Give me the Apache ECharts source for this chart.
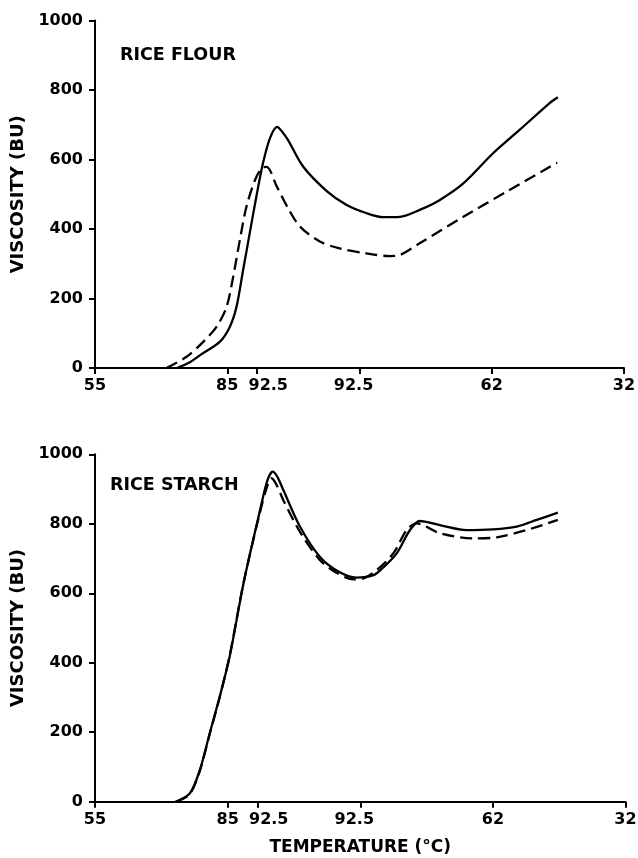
<!DOCTYPE html>
<html>
<head>
<meta charset="utf-8">
<script src="https://cdn.jsdelivr.net/npm/echarts@6/dist/echarts.min.js"></script>
<style>
html,body{margin:0;padding:0;background:#fff;}
#c{width:638px;height:858px;}
</style>
</head>
<body>
<div id="c"></div>
<script>
// Time axis (minutes) with temperature labels
const tickTimes = [0, 20, 24.5, 40, 60, 80];
const labelTimes = [0, 20, 26.2, 39.1, 60, 80];
const tempLabels = ['55', '85', '92.5', '92.5', '62', '32'];

// RICE FLOUR
const flourSolidT = [12.4, 14.2, 15.9, 18.9, 20.4, 21.4, 22.4, 23.4, 24.4, 25.4, 26.45, 27.55, 28.3, 29.2, 31.5, 35.0, 38.0, 41.0, 43.6, 46.1, 49.1, 52.1, 55.7, 60.2, 64.2, 68.8, 70.0];
const flourSolidV = [0, 15, 37, 76, 119, 176, 282, 388, 493, 589, 661, 694, 680, 656, 579, 510, 470, 446, 434, 435, 455, 483, 531, 618, 685, 763, 779];
const flourDashT = [10.8, 13.9, 16.4, 18.4, 19.9, 20.9, 21.9, 22.9, 24.2, 25.2, 25.95, 27.5, 29.2, 31.0, 34.0, 37.0, 41.0, 44.6, 46.1, 49.1, 55.7, 62.2, 68.8, 69.9];
const flourDashV = [0, 33, 76, 119, 176, 263, 368, 464, 541, 575, 579, 522, 460, 407, 364, 344, 330, 322, 325, 359, 435, 507, 579, 591];

// RICE STARCH
const starchSolidT = [12.1, 14.3, 15.8, 17.3, 18.8, 20.3, 22.4, 24.9, 26.0, 26.8, 27.5, 28.4, 30.9, 33.9, 36.5, 39.4, 42.0, 43.5, 45.5, 47.5, 49.0, 52.0, 56.0, 60.0, 63.6, 66.6, 69.8];
const starchSolidV = [0, 24, 91, 197, 302, 417, 629, 840, 925, 950, 935, 897, 792, 705, 665, 645, 652, 675, 715, 782, 808, 796, 782, 784, 792, 811, 832];
const starchDashT = [12.3, 14.3, 15.8, 17.3, 18.8, 20.3, 22.4, 24.9, 26.0, 26.6, 27.3, 28.4, 30.9, 33.9, 36.5, 39.0, 40.5, 42.5, 45.0, 47.0, 48.5, 52.0, 57.0, 60.6, 65.1, 69.8];
const starchDashV = [0, 22, 88, 195, 300, 420, 630, 835, 910, 931, 915, 868, 777, 696, 658, 640, 643, 667, 715, 782, 801, 773, 758, 761, 782, 811];

const FONT = 'DejaVu Sans';
const pair = (ts, vs) => ts.map((t, i) => [t, vs[i]]);
const labelFor = v => {
  const i = labelTimes.findIndex(x => Math.abs(x - v) < 1e-6);
  return i >= 0 ? tempLabels[i] : '';
};

const gTop = {left: 95, right: 14, top: 20.5, height: 347.5, outerBoundsMode: 'none', containLabel: false};
const gBot = {left: 95, right: 12.5, top: 454.3, height: 347.4, outerBoundsMode: 'none', containLabel: false};

function mainX(g, withName) {
  return {
    gridIndex: g, type: 'value', min: 0, max: 80, position: 'bottom',
    axisLine: {show: true, onZero: false, lineStyle: {color: '#000', width: 2}},
    axisTick: {show: true, length: 6, customValues: tickTimes, lineStyle: {color: '#000', width: 2}},
    axisLabel: {show: true, customValues: labelTimes, formatter: labelFor, margin: 10,
      color: '#000', fontFamily: FONT, fontWeight: 'bold', fontSize: 16},
    splitLine: {show: false},
    name: withName ? 'TEMPERATURE (°C)' : '',
    nameLocation: 'middle', nameGap: 37,
    nameTextStyle: {color: '#000', fontFamily: FONT, fontWeight: 'bold', fontSize: 17}
  };
}
function mainY(g) {
  return {
    gridIndex: g, type: 'value', min: 0, max: 1000, interval: 200, position: 'left',
    axisLine: {show: true, onZero: false, lineStyle: {color: '#000', width: 2}},
    axisTick: {show: true, length: 6, lineStyle: {color: '#000', width: 2}},
    axisLabel: {show: true, margin: 12, formatter: v => String(v),
      color: '#000', fontFamily: FONT, fontWeight: 'bold', fontSize: 16},
    splitLine: {show: false},
    name: 'VISCOSITY (BU)', nameLocation: 'middle', nameGap: 52,
    nameTextStyle: {color: '#000', fontFamily: FONT, fontWeight: 'bold', fontSize: 18}
  };
}
function line(name, data, dashed, gi) {
  return {
    name, type: 'line', data, xAxisIndex: gi, yAxisIndex: gi,
    smooth: 0.3, showSymbol: false, silent: true,
    lineStyle: {color: '#000', width: 2.3, type: dashed ? [12, 6] : 'solid'}
  };
}

const chart = echarts.init(document.getElementById('c'), null, {renderer: 'canvas'});
chart.setOption({
  animation: false,
  backgroundColor: '#fff',
  grid: [gTop, gBot],
  xAxis: [mainX(0, false), mainX(1, true)],
  yAxis: [mainY(0), mainY(1)],
  graphic: [
    {type: 'text', left: 120, top: 46, style: {text: 'RICE FLOUR', fill: '#000', font: 'bold 17.5px "DejaVu Sans"'}},
    {type: 'text', left: 110, top: 476, style: {text: 'RICE STARCH', fill: '#000', font: 'bold 17.5px "DejaVu Sans"'}}
  ],
  series: [
    line('Rice flour solid', pair(flourSolidT, flourSolidV), false, 0),
    line('Rice flour dashed', pair(flourDashT, flourDashV), true, 0),
    line('Rice starch solid', pair(starchSolidT, starchSolidV), false, 1),
    line('Rice starch dashed', pair(starchDashT, starchDashV), true, 1)
  ]
});
</script>
</body>
</html>
